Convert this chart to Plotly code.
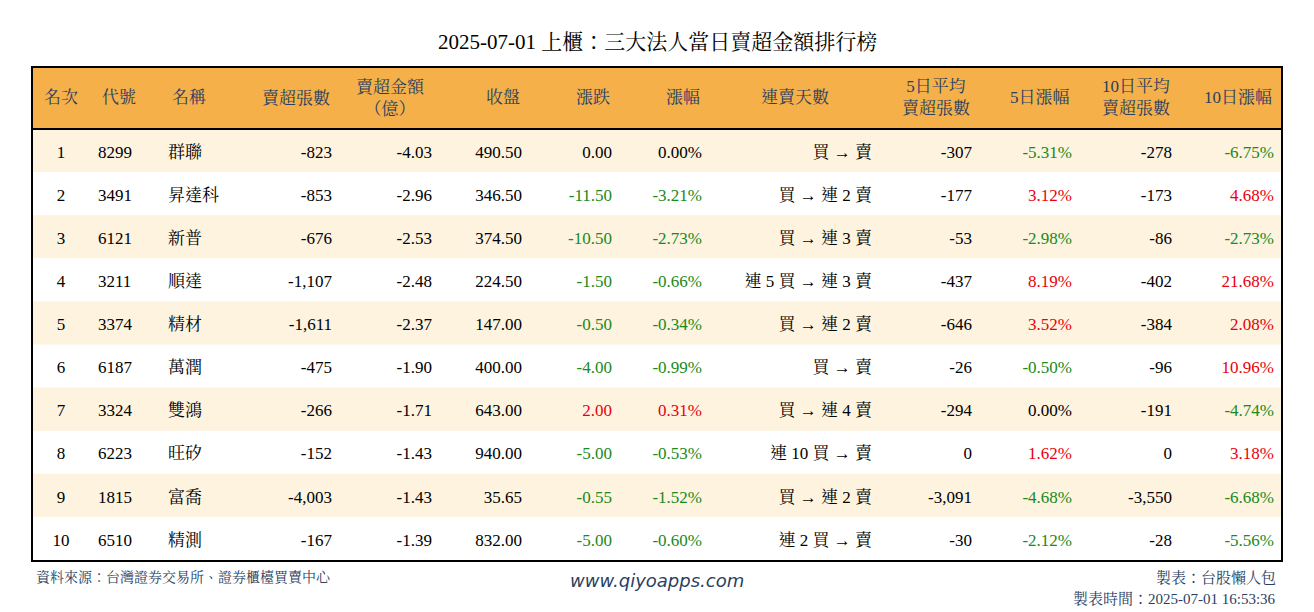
import plotly.graph_objects as go

rank = [1, 2, 3, 4, 5, 6, 7, 8, 9, 10]
code = ["8299", "3491", "6121", "3211", "3374", "6187", "3324", "6223", "1815", "6510"]
name = ["群聯", "昇達科", "新普", "順達", "精材", "萬潤", "雙鴻", "旺矽", "富喬", "精測"]
sell_lots = ["-823", "-853", "-676", "-1,107", "-1,611", "-475", "-266", "-152", "-4,003", "-167"]
sell_amt = ["-4.03", "-2.96", "-2.53", "-2.48", "-2.37", "-1.90", "-1.71", "-1.43", "-1.43", "-1.39"]
close = ["490.50", "346.50", "374.50", "224.50", "147.00", "400.00", "643.00", "940.00", "35.65", "832.00"]
change = ["0.00", "-11.50", "-10.50", "-1.50", "-0.50", "-4.00", "2.00", "-5.00", "-0.55", "-5.00"]
pct = ["0.00%", "-3.21%", "-2.73%", "-0.66%", "-0.34%", "-0.99%", "0.31%", "-0.53%", "-1.52%", "-0.60%"]
streak = ["買 → 賣", "買 → 連 2 賣", "買 → 連 3 賣", "連 5 買 → 連 3 賣", "買 → 連 2 賣",
          "買 → 賣", "買 → 連 4 賣", "連 10 買 → 賣", "買 → 連 2 賣", "連 2 買 → 賣"]
avg5 = ["-307", "-177", "-53", "-437", "-646", "-26", "-294", "0", "-3,091", "-30"]
pct5 = ["-5.31%", "3.12%", "-2.98%", "8.19%", "3.52%", "-0.50%", "0.00%", "1.62%", "-4.68%", "-2.12%"]
avg10 = ["-278", "-173", "-86", "-402", "-384", "-96", "-191", "0", "-3,550", "-28"]
pct10 = ["-6.75%", "4.68%", "-2.73%", "21.68%", "2.08%", "10.96%", "-4.74%", "3.18%", "-6.68%", "-5.56%"]

headers = ["名次", "代號", "名稱", "賣超張數", "賣超金額<br>（億）", "收盤", "漲跌", "漲幅",
           "連賣天數", "5日平均<br>賣超張數", "5日漲幅", "10日平均<br>賣超張數", "10日漲幅"]
cols = [rank, code, name, sell_lots, sell_amt, close, change, pct, streak, avg5, pct5, avg10, pct10]


def color_of(v):
    x = float(v.replace("%", "").replace(",", ""))
    if x > 0:
        return "#e8000b"
    if x < 0:
        return "#1a8a1a"
    return "black"


font_colors = []
for i, c in enumerate(cols):
    if i in (6, 7, 10, 12):
        font_colors.append([color_of(v) for v in c])
    else:
        font_colors.append(["black"] * len(c))

W, H = 1314, 612
X0, X1 = 32, 1282
TOP, HEAD, ROW = 67, 62, 43.1
widths = [58, 70, 80, 100, 100, 90, 90, 90, 170, 100, 100, 100, 102]
cell_align = ["center", "left", "left"] + ["right"] * 10
head_align = ["center", "left", "left", "right", "center", "right", "right", "right",
              "center", "right", "right", "right", "right"]
fam = "Liberation Serif, Noto Serif CJK TC, Noto Sans CJK TC"
clear = "rgba(0,0,0,0)"

# backgrounds drawn as shapes so the cell text can sit lower in each row
fig = go.Figure()
fig.add_shape(type="rect", xref="paper", yref="paper", x0=X0 / W, x1=X1 / W,
              y0=1 - (TOP + HEAD) / H, y1=1 - TOP / H, fillcolor="#f5b04a", line_width=0,
              layer="below")
for k in range(len(rank)):
    if k % 2 == 0:
        y_top = TOP + HEAD + k * ROW
        fig.add_shape(type="rect", xref="paper", yref="paper", x0=X0 / W, x1=X1 / W,
                      y0=1 - (y_top + ROW) / H, y1=1 - y_top / H, fillcolor="#fdf3df",
                      line_width=0, layer="below")

SHIFT = 8
fig.add_trace(go.Table(
    columnwidth=widths,
    domain=dict(x=[X0 / W, X1 / W], y=[0, 1 - (TOP + SHIFT) / H]),
    header=dict(values=[""] * len(cols), fill_color=clear, line_width=0,
                height=HEAD, font=dict(family=fam, size=17, color="black")),
    cells=dict(values=cols, fill_color=clear, line_width=0, align=cell_align,
               height=ROW, font=dict(family=fam, size=17, color=font_colors)),
))

# header labels, vertically centred
scale = (X1 - X0) / sum(widths)
left = X0
for h, w, a in zip(headers, widths, head_align):
    right = left + w * scale
    if a == "left":
        x, xa = left + 10, "left"
    elif a == "right":
        x, xa = right - 8, "right"
    else:
        x, xa = (left + right) / 2, "center"
    fig.add_annotation(text=h, x=x / W, y=1 - 98 / H, xanchor=xa, yanchor="middle",
                       xref="paper", yref="paper", showarrow=False,
                       font=dict(family=fam, size=17), align="center")
    left = right

fig.add_shape(type="rect", xref="paper", yref="paper", x0=X0 / W, x1=X1 / W,
              y0=1 - 561 / H, y1=1 - TOP / H, line=dict(color="black", width=2))
fig.add_shape(type="line", xref="paper", yref="paper", x0=X0 / W, x1=X1 / W,
              y0=1 - 129 / H, y1=1 - 129 / H, line=dict(color="black", width=2))

fig.add_annotation(text="2025-07-01 上櫃：三大法人當日賣超金額排行榜", x=0.5, y=1 - 42 / H,
                   yanchor="middle", xref="paper", yref="paper", showarrow=False,
                   font=dict(family=fam, size=21, color="black"))
fig.add_annotation(text="資料來源：台灣證券交易所、證券櫃檯買賣中心", x=34 / W, y=1 - 577 / H,
                   xanchor="left", yanchor="middle", xref="paper", yref="paper", showarrow=False,
                   font=dict(family=fam, size=14))
fig.add_annotation(text="<i>www.qiyoapps.com</i>", x=657 / W, y=1 - 580 / H, yanchor="middle",
                   xref="paper", yref="paper", showarrow=False,
                   font=dict(family="DejaVu Sans", size=18))
fig.add_annotation(text="製表：台股懶人包", x=1278 / W, y=1 - 577 / H, xanchor="right",
                   yanchor="middle", xref="paper", yref="paper", showarrow=False,
                   font=dict(family=fam, size=15))
fig.add_annotation(text="製表時間：2025-07-01 16:53:36", x=1278 / W, y=1 - 598 / H,
                   xanchor="right", yanchor="middle", xref="paper", yref="paper", showarrow=False,
                   font=dict(family=fam, size=15))

fig.update_layout(width=W, height=H, margin=dict(l=0, r=0, t=0, b=0),
                  paper_bgcolor="white")
fig.write_html("out.html", config={"displayModeBar": False},
               post_script="document.body.style.margin='0';")
